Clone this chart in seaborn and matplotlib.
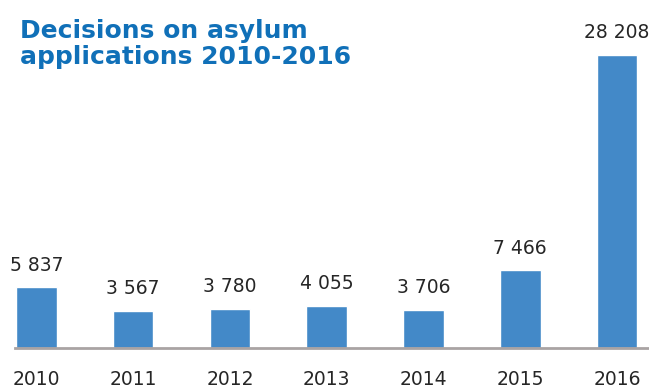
import matplotlib
matplotlib.use("Agg")
import matplotlib.pyplot as plt
import seaborn as sns
import pandas as pd

years = ["2010", "2011", "2012", "2013", "2014", "2015", "2016"]
decisions = [5837, 3567, 3780, 4055, 3706, 7466, 28208]
labels = ["5 837", "3 567", "3 780", "4 055", "3 706", "7 466", "28 208"]

df = pd.DataFrame({"Year": years, "Decisions": decisions})

sns.set_style("white")
plt.rcParams["font.family"] = ["DejaVu Sans"]

fig = plt.figure(figsize=(6.49, 3.88), dpi=100)
ax = fig.add_axes([15 / 649, 40 / 388, 634 / 649, 338 / 388])

sns.barplot(data=df, x="Year", y="Decisions", color="#4389c8", width=0.42,
            saturation=1, ax=ax)

for container in ax.containers:
    ax.bar_label(container, labels=labels, padding=9, fontsize=13.5, color="#262626")

ax.set_xlim(-0.22, 6.33)
ax.set_ylim(0, 32540)
ax.set_xlabel("")
ax.set_ylabel("")
ax.set_yticks([])
ax.tick_params(axis="x", length=0, pad=16, labelsize=13.5, labelcolor="#262626")
for side in ["left", "right", "top"]:
    ax.spines[side].set_visible(False)
ax.spines["bottom"].set_color("#a9a3a3")
ax.spines["bottom"].set_linewidth(2)

fig.text(20 / 649, 1 - 19 / 388, "Decisions on asylum\napplications 2010-2016",
         fontsize=18, fontweight="bold", color="#1070b8", va="top", ha="left",
         linespacing=1.1)

fig.savefig("out.png", dpi=100)
